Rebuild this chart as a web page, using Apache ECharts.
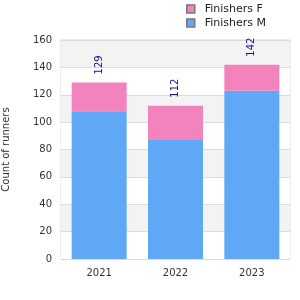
<!DOCTYPE html>
<html>
<head>
<meta charset="utf-8">
<script src="https://cdn.jsdelivr.net/npm/echarts@6/dist/echarts.min.js"></script>
<style>
  html, body { margin: 0; padding: 0; background: #ffffff; }
  #chart { width: 300px; height: 300px; }
</style>
</head>
<body>
<div id="chart"></div>
<script>
  // 数据
  const years = ['2021', '2022', '2023'];
  const finishersM = [108, 87, 123];
  const finishersF = [21, 25, 19];
  const totals = [129, 112, 142];

  const chart = echarts.init(document.getElementById('chart'));

  chart.setOption({
    animation: false,
    textStyle: { fontFamily: 'DejaVu Sans' },
    legend: {
      data: ['Finishers F', 'Finishers M'],
      orient: 'vertical',
      left: 181,
      top: 1,
      padding: [1, 5],
      itemWidth: 8,
      itemHeight: 8,
      itemGap: 0,
      icon: 'rect',
      itemStyle: { borderColor: '#777', borderWidth: 1.5 },
      textStyle: { fontSize: 11, color: '#222', padding: [0, 0, 0, 5], lineHeight: 14 }
    },
    grid: {
      left: 61,
      right: 10,
      top: 40,
      bottom: 41,
      containLabel: false,
      outerBoundsMode: 'none',
      show: true,
      borderColor: '#d9d9d9',
      borderWidth: 1
    },
    xAxis: {
      type: 'category',
      data: years,
      axisLine: { show: false },
      axisTick: { show: false },
      axisLabel: { fontSize: 10, color: '#333', margin: 9 }
    },
    yAxis: {
      type: 'value',
      min: 0,
      max: 160,
      interval: 20,
      name: 'Count of runners',
      nameLocation: 'middle',
      nameGap: 50,
      nameTextStyle: { fontSize: 10, color: '#333' },
      axisLine: { show: false },
      axisTick: { show: false },
      axisLabel: { fontSize: 10, color: '#333', margin: 9 },
      splitLine: { lineStyle: { color: '#dcdcdc', width: 1 } },
      splitArea: { show: true, areaStyle: { color: ['#ffffff', '#f3f3f3'] } }
    },
    series: [
      {
        name: 'Finishers M',
        type: 'bar',
        stack: 'total',
        barWidth: 55,
        data: finishersM,
        itemStyle: { color: '#60a8f5' }
      },
      {
        name: 'Finishers F',
        type: 'bar',
        stack: 'total',
        barWidth: 55,
        data: finishersF,
        itemStyle: { color: '#f283bd' },
        label: {
          show: true,
          position: 'top',
          rotate: 90,
          align: 'left',
          verticalAlign: 'middle',
          distance: 8,
          fontSize: 10,
          color: '#14148c',
          formatter: p => String(totals[p.dataIndex])
        }
      }
    ]
  });
</script>
</body>
</html>
